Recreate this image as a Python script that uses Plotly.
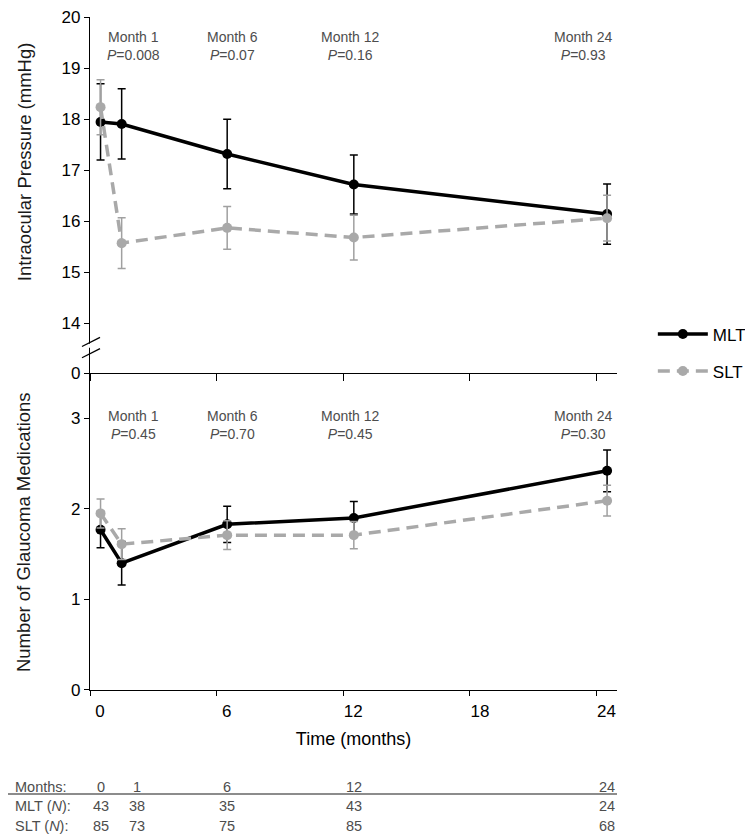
import plotly.graph_objects as go

# data
months = [0, 1, 6, 12, 24]

mlt_iop = [17.95, 17.91, 17.32, 16.72, 16.14]
mlt_iop_err = [0.75, 0.69, 0.68, 0.58, 0.59]
slt_iop = [18.24, 15.57, 15.87, 15.68, 16.06]
slt_iop_err = [0.54, 0.50, 0.42, 0.44, 0.45]

mlt_meds = [1.77, 1.40, 1.83, 1.90, 2.42]
mlt_meds_err = [0.20, 0.24, 0.20, 0.18, 0.23]
slt_meds = [1.95, 1.61, 1.71, 1.71, 2.09]
slt_meds_err = [0.16, 0.17, 0.16, 0.15, 0.17]

p_months = [1, 6, 12, 24]
p_iop = ["0.008", "0.07", "0.16", "0.93"]
p_meds = ["0.45", "0.70", "0.45", "0.30"]

n_months = ["0", "1", "6", "12", "24"]
n_mlt = ["43", "38", "35", "43", "24"]
n_slt = ["85", "73", "75", "85", "68"]

BLACK = "#000000"
GRAY = "#a9a9a9"
TXT = "#4d4d4d"
FONT = "Liberation Sans, Arial, sans-serif"

xr = [-0.5, 24.47]
xticks = [-0.5, 5.5, 11.5, 17.5, 23.5]

fig = go.Figure()


def add_pair(mlt, mlt_err, slt, slt_err, xa, ya, legend):
    fig.add_trace(go.Scatter(
        x=months, y=mlt, name="MLT", mode="lines+markers",
        line=dict(color=BLACK, width=3.5),
        marker=dict(color=BLACK, size=10),
        error_y=dict(type="data", array=mlt_err, color=BLACK, thickness=1.5, width=4),
        xaxis=xa, yaxis=ya, showlegend=legend, legendgroup="MLT"))
    fig.add_trace(go.Scatter(
        x=months, y=slt, name="SLT", mode="lines+markers",
        line=dict(color=GRAY, width=3.5, dash="12px,7px"),
        marker=dict(color=GRAY, size=10),
        error_y=dict(type="data", array=slt_err, color="#a0a0a0", thickness=1.5, width=4),
        xaxis=xa, yaxis=ya, showlegend=legend, legendgroup="SLT"))


add_pair(mlt_iop, mlt_iop_err, slt_iop, slt_iop_err, "x", "y", True)
add_pair(mlt_meds, mlt_meds_err, slt_meds, slt_meds_err, "x2", "y2", False)

split = 0.4710
tickfont = dict(family=FONT, size=17, color=BLACK)
axline = dict(showline=True, linecolor=BLACK, linewidth=1.3, showgrid=False,
              zeroline=False, tickcolor=BLACK, tickwidth=1.3, automargin=False,
              ticklabeloverflow="allow")
overlay = dict(showline=False, showgrid=False, zeroline=False, tickcolor=BLACK,
               tickwidth=1.3, showticklabels=False, automargin=False)

# page body keeps an 8px margin, so the figure is 8px smaller each way
fig.update_layout(
    width=745, height=831,
    margin=dict(l=82, r=136, t=9, b=149, autoexpand=False),
    plot_bgcolor="white", paper_bgcolor="white",
    font=dict(family=FONT, color=BLACK),
    xaxis=dict(domain=[0, 1], anchor="y", range=xr, tickmode="array", tickvals=xticks,
               showticklabels=False, ticks="outside", ticklen=7, **axline),
    xaxis3=dict(overlaying="x", anchor="y", range=xr, tickmode="array", tickvals=xticks,
                ticks="inside", ticklen=7, **overlay),
    xaxis2=dict(domain=[0, 1], anchor="y2", range=xr, tickmode="array", tickvals=xticks,
                ticktext=["0", "6", "12", "18", "24"], ticklabelshift=10,
                ticks="outside", ticklen=5, tickfont=tickfont,
                title=dict(text="Time (months)", font=dict(family=FONT, size=18, color=BLACK),
                           standoff=12),
                **axline),
    xaxis4=dict(overlaying="x2", anchor="y2", range=xr, tickmode="array", tickvals=xticks,
                ticks="inside", ticklen=4, **overlay),
    yaxis=dict(domain=[split, 1], anchor="x", range=[13.02, 20.01], tickmode="array",
               tickvals=[13.02, 14, 15, 16, 17, 18, 19, 20],
               ticktext=["0", "14", "15", "16", "17", "18", "19", "20"],
               ticks="outside", ticklen=5, tickfont=tickfont, **axline),
    yaxis2=dict(domain=[0, split], anchor="x2", range=[0, 3.5], tickmode="array",
                tickvals=[0, 1, 2, 3], ticks="outside", ticklen=5, tickfont=tickfont,
                **axline),
    yaxis3=dict(overlaying="y2", anchor="x2", range=[0, 3.5], tickmode="array",
                tickvals=[1, 2, 3], ticks="inside", ticklen=5,
                minor=dict(tickmode="array", tickvals=[0.5, 2.5], ticks="inside",
                           ticklen=3, tickcolor=BLACK, tickwidth=1.3),
                **overlay),
    legend=dict(x=1.068, y=0.5551, xanchor="left", yanchor="top",
                font=dict(family=FONT, size=17, color=BLACK), itemwidth=50,
                tracegroupgap=12, traceorder="grouped", bgcolor="rgba(0,0,0,0)"),
)

# P-value annotations
p_x = [1.54, 6.23, 11.82, 22.87]
for m, px, p1, p2 in zip(p_months, p_x, p_iop, p_meds):
    fig.add_annotation(x=px, y=19.45, xref="x", yref="y", showarrow=False,
                       xanchor="center", yanchor="middle",
                       text=f"Month {m}<br><i>P</i>=%s" % p1,
                       font=dict(family=FONT, size=14, color=TXT))
    fig.add_annotation(x=px, y=2.93, xref="x2", yref="y2", showarrow=False,
                       xanchor="center", yanchor="middle",
                       text=f"Month {m}<br><i>P</i>=%s" % p2,
                       font=dict(family=FONT, size=14, color=TXT))

# y titles
fig.add_annotation(x=-0.125, y=0.7845, xref="paper", yref="paper", showarrow=False,
                   xanchor="center", yanchor="middle",
                   text="Intraocular Pressure (mmHg)", textangle=-90,
                   font=dict(family=FONT, size=18.5, color="#1a1a1a"))
fig.add_annotation(x=-0.125, y=0.2348, xref="paper", yref="paper", showarrow=False,
                   xanchor="center", yanchor="middle",
                   text="Number of Glaucoma Medications", textangle=-90,
                   font=dict(family=FONT, size=18.5, color="#1a1a1a"))

# axis break marks
fig.add_shape(type="path", xref="x domain", yref="y",
              path="M -0.008,13.48 L 0.008,13.56 L 0.008,13.64 L -0.008,13.56 Z",
              fillcolor="white", line=dict(width=0))
for y0, y1 in [(13.54, 13.72), (13.32, 13.50)]:
    fig.add_shape(type="line", xref="x domain", yref="y", x0=-0.0152, x1=0.019,
                  y0=y0, y1=y1, line=dict(color=BLACK, width=1.3))

# N table
col_x = [0, 1.75, 6, 12, 24]
rows = [("Months:", n_months, -0.1441), ("MLT (<i>N</i>):", n_mlt, -0.1724),
        ("SLT (<i>N</i>):", n_slt, -0.2021)]
for label, vals, ry in rows:
    fig.add_annotation(x=-0.146, y=ry, xref="paper", yref="paper", showarrow=False,
                       xanchor="left", yanchor="middle", text=label,
                       font=dict(family=FONT, size=14.5, color=TXT))
    for cx, v in zip(col_x, vals):
        fig.add_annotation(x=cx, y=ry, xref="x2", yref="paper", showarrow=False,
                           xanchor="center", yanchor="middle", text=v,
                           font=dict(family=FONT, size=14.5, color=TXT))
fig.add_shape(type="line", xref="paper", yref="paper", x0=-0.165, x1=1.0,
              y0=-0.1545, y1=-0.1545, line=dict(color="#666666", width=1.5))

fig.write_html("out.html")
